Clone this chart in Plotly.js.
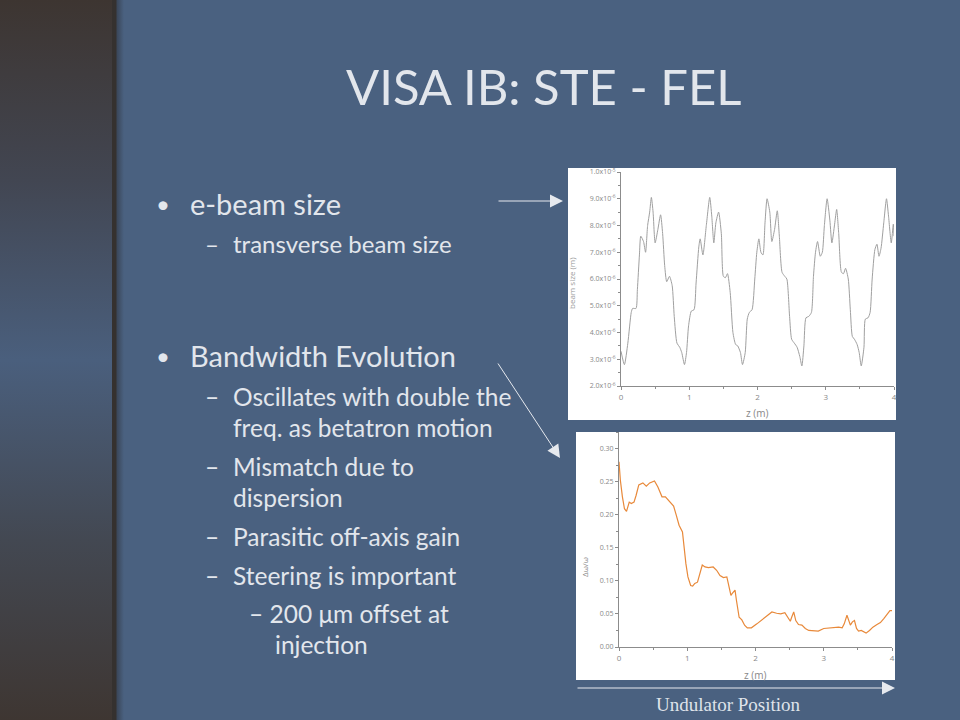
<!DOCTYPE html>
<html>
<head>
<meta charset="utf-8">
<script src="https://cdn.plot.ly/plotly-3.0.1.min.js"></script>
<style>
  html, body { margin:0; padding:0; width:960px; height:720px; overflow:hidden; }
  body {
    background:
      linear-gradient(to right, rgba(0,0,0,0) 0px, rgba(0,0,0,0) 112px, #35312f 112px, #35312f 116px, rgba(40,40,45,0.45) 117px, rgba(40,40,45,0) 124px),
      linear-gradient(to bottom, #3d3531 0%, #424652 25%, #4a5f7d 50%, #434852 75%, #3e3632 100%) 0 0 / 113px 720px no-repeat,
      #4a6180;
  }
  #chart { width:960px; height:720px; }
</style>
</head>
<body>
<div id="chart"></div>
<script>
// ---- data: beam size vs z (beam size in units of 1e-6 m) ----
const beamZ = [0.00,0.05,0.10,0.15,0.17,0.22,0.24,0.27,0.29,0.33,0.36,0.39,0.42,0.445,0.47,0.50,0.54,0.58,0.61,0.64,0.67,0.71,0.75,0.78,0.82,0.86,0.89,0.93,0.96,0.99,1.03,1.07,1.10,1.14,1.16,1.20,1.25,1.30,1.33,1.36,1.39,1.43,1.47,1.50,1.53,1.56,1.60,1.64,1.68,1.71,1.75,1.78,1.82,1.85,1.88,1.92,1.96,1.99,2.02,2.05,2.08,2.11,2.14,2.18,2.21,2.25,2.29,2.32,2.36,2.40,2.43,2.47,2.50,2.54,2.58,2.62,2.65,2.68,2.71,2.75,2.79,2.82,2.85,2.88,2.92,2.95,2.98,3.02,3.06,3.09,3.13,3.16,3.19,3.23,3.26,3.29,3.33,3.36,3.39,3.42,3.46,3.49,3.52,3.56,3.58,3.62,3.65,3.68,3.72,3.75,3.78,3.81,3.85,3.89,3.92,3.96,3.99,4.00];
const beamSize = [3.3,2.8,3.6,4.75,4.9,4.9,5.6,6.9,7.6,7.4,7.0,8.0,8.5,9.05,8.5,7.35,7.85,8.4,7.7,6.5,5.9,6.1,5.75,4.6,3.6,3.45,3.25,2.8,3.25,4.25,4.8,4.85,5.85,7.2,7.5,6.9,8.0,9.05,8.35,7.35,8.1,8.5,7.7,6.1,6.05,6.2,5.5,4.0,3.55,3.5,3.25,2.8,3.25,4.5,4.75,4.85,6.0,7.0,7.5,7.0,6.9,8.1,9.0,8.5,7.4,7.85,8.55,7.6,6.25,6.1,6.0,4.6,3.75,3.6,3.45,3.1,2.75,3.5,4.55,4.6,4.75,6.1,7.0,7.4,6.85,7.0,8.0,9.0,8.2,7.35,8.05,8.6,7.7,6.25,6.2,6.4,6.0,4.85,3.85,3.75,3.55,3.25,2.75,3.45,4.5,4.55,4.75,6.0,7.1,7.3,6.85,7.15,8.1,9.0,8.35,7.35,8.05,7.6];
const beamTickVals = [2,3,4,5,6,7,8,9,10];
const beamTickText = ['2.0x10<sup>-6</sup>','3.0x10<sup>-6</sup>','4.0x10<sup>-6</sup>','5.0x10<sup>-6</sup>','6.0x10<sup>-6</sup>','7.0x10<sup>-6</sup>','8.0x10<sup>-6</sup>','9.0x10<sup>-6</sup>','1.0x10<sup>-5</sup>'];

// ---- data: bandwidth (Δω/ω) vs z ----
const bwZ = [0.00,0.02,0.05,0.08,0.11,0.15,0.18,0.22,0.25,0.29,0.35,0.40,0.45,0.52,0.57,0.63,0.68,0.74,0.80,0.84,0.88,0.93,0.95,0.98,1.01,1.05,1.08,1.11,1.15,1.18,1.22,1.26,1.31,1.38,1.43,1.48,1.53,1.58,1.61,1.64,1.66,1.70,1.72,1.76,1.80,1.84,1.88,1.94,2.02,2.09,2.16,2.24,2.31,2.37,2.43,2.47,2.51,2.53,2.56,2.59,2.63,2.68,2.73,2.78,2.85,2.92,3.00,3.07,3.14,3.22,3.27,3.30,3.34,3.36,3.39,3.42,3.45,3.48,3.51,3.55,3.59,3.62,3.67,3.72,3.78,3.83,3.88,3.93,3.97,4.00];
const bwVal = [0.280,0.252,0.227,0.209,0.205,0.219,0.217,0.219,0.229,0.245,0.248,0.243,0.248,0.251,0.242,0.227,0.227,0.220,0.213,0.199,0.184,0.174,0.151,0.126,0.106,0.093,0.092,0.096,0.098,0.111,0.124,0.121,0.120,0.121,0.116,0.108,0.105,0.106,0.091,0.078,0.081,0.086,0.071,0.045,0.041,0.033,0.029,0.029,0.035,0.041,0.046,0.053,0.051,0.050,0.052,0.045,0.039,0.045,0.053,0.040,0.034,0.033,0.028,0.025,0.024,0.024,0.028,0.029,0.030,0.030,0.029,0.035,0.048,0.043,0.033,0.038,0.040,0.028,0.024,0.025,0.023,0.021,0.025,0.030,0.034,0.037,0.043,0.050,0.055,0.055];
const bwTickVals = [0,0.05,0.10,0.15,0.20,0.25,0.30];
const zTickVals = [0,1,2,3,4];

// ---- slide text ----
const slideTitle = 'VISA IB: STE - FEL';
const bulletLines = [
  {t:'•', x:154, y:203, s:24},
  {t:'e-beam size', x:188, y:203, s:29},
  {t:'–', x:203, y:243, s:24},
  {t:'transverse beam size', x:231, y:243, s:24},
  {t:'•', x:154, y:355, s:24},
  {t:'Bandwidth Evolution', x:188, y:355, s:29},
  {t:'–', x:203, y:396, s:24.5},
  {t:'Oscillates with double the', x:231, y:396, s:24.5},
  {t:'freq. as betatron motion', x:231, y:427, s:24.5},
  {t:'–', x:203, y:466, s:24.5},
  {t:'Mismatch due to', x:231, y:466, s:24.5},
  {t:'dispersion', x:231, y:497, s:24.5},
  {t:'–', x:203, y:536, s:24.5},
  {t:'Parasitic off-axis gain', x:231, y:536, s:24.5},
  {t:'–', x:203, y:575, s:24.5},
  {t:'Steering is important', x:231, y:575, s:24.5},
  {t:'– 200 μm offset at', x:247, y:613, s:24.5},
  {t:'injection', x:273, y:644, s:24.5}
];

const W = 960, H = 720;
const px = v => v / W;
const py = v => 1 - v / H;
const textCol = '#e2e6ec';
const slideFont = 'Lato, "Open Sans", sans-serif';
const chartFont = '"Open Sans", "DejaVu Sans", sans-serif';

const traces = [
  {x: beamZ, y: beamSize, xaxis:'x', yaxis:'y', type:'scatter', mode:'lines',
   line:{color:'#a0a0a0', width:1, shape:'spline', smoothing:0.6}, hoverinfo:'skip'},
  {x: bwZ, y: bwVal, xaxis:'x2', yaxis:'y2', type:'scatter', mode:'lines',
   line:{color:'#e8893a', width:1.2}, hoverinfo:'skip'}
];

const axisBase = {
  showline:true, linecolor:'#8c8c8c', linewidth:1, mirror:false,
  ticks:'outside', ticklen:3, tickcolor:'#8c8c8c', tickwidth:1,
  showgrid:false, zeroline:false, fixedrange:true,
  tickfont:{family:chartFont, size:8, color:'#888'}
};

const annotations = [];
annotations.push({text: slideTitle, x: px(543), y: py(86), xref:'paper', yref:'paper',
  xanchor:'center', yanchor:'middle', showarrow:false,
  font:{family:slideFont, size:49, color:textCol}});
bulletLines.forEach(b => annotations.push({text:b.t, x:px(b.x), y:py(b.y), xref:'paper', yref:'paper',
  xanchor:'left', yanchor:'middle', showarrow:false, font:{family:slideFont, size:b.s, color:textCol}}));
// axis titles
annotations.push({text:'beam size (m)', x:px(572), y:py(283), xref:'paper', yref:'paper', textangle:-90,
  xanchor:'center', yanchor:'middle', showarrow:false, font:{family:chartFont, size:8, color:'#999'}});
annotations.push({text:'z (m)', x:px(757), y:py(413), xref:'paper', yref:'paper',
  xanchor:'center', yanchor:'middle', showarrow:false, font:{family:chartFont, size:10, color:'#888'}});
annotations.push({text:'Δω/ω', x:px(584), y:py(567), xref:'paper', yref:'paper', textangle:-90,
  xanchor:'center', yanchor:'middle', showarrow:false, font:{family:chartFont, size:8, color:'#888'}});
annotations.push({text:'z (m)', x:px(755), y:py(675), xref:'paper', yref:'paper',
  xanchor:'center', yanchor:'middle', showarrow:false, font:{family:chartFont, size:10, color:'#888'}});
// arrows
const arrowCol = '#e6e9ee';
[[563,201,-66,0],[560,458,-63,-96],[895,688,-319,0]].forEach(a => annotations.push({
  text:'', x:px(a[0]), y:py(a[1]), xref:'paper', yref:'paper', showarrow:true,
  ax:a[2], ay:a[3], arrowhead:2, arrowsize:2.6, arrowwidth:1, arrowcolor:arrowCol}));
annotations.push({text:'Undulator Position', x:px(728), y:py(704), xref:'paper', yref:'paper',
  xanchor:'center', yanchor:'middle', showarrow:false,
  font:{family:'"Liberation Serif", "DejaVu Serif", serif', size:19, color:'#dfe3ea'}});

const layout = {
  width: W, height: H,
  margin:{l:0, r:0, t:0, b:0},
  paper_bgcolor:'rgba(0,0,0,0)',
  plot_bgcolor:'rgba(0,0,0,0)',
  showlegend:false,
  xaxis: Object.assign({}, axisBase, {domain:[px(621), px(894)], range:[0,4], anchor:'y',
    tickvals: zTickVals, minor:{dtick:0.5, tick0:0, ticks:'outside', ticklen:2, tickcolor:'#8c8c8c'}}),
  yaxis: Object.assign({}, axisBase, {domain:[py(386), py(172)], range:[2,10], anchor:'x',
    tickvals: beamTickVals, ticktext: beamTickText,
    tickfont:{family:chartFont, size:7, color:'#888'},
    minor:{dtick:0.5, tick0:0, ticks:'outside', ticklen:2, tickcolor:'#8c8c8c'}}),
  xaxis2: Object.assign({}, axisBase, {domain:[px(619), px(892)], range:[0,4], anchor:'y2',
    tickvals: zTickVals, minor:{dtick:0.5, tick0:0, ticks:'outside', ticklen:2, tickcolor:'#8c8c8c'}}),
  yaxis2: Object.assign({}, axisBase, {domain:[py(647), py(432)], range:[0,0.325], anchor:'x2',
    tickvals: bwTickVals, tickformat:'.2f',
    tickfont:{family:chartFont, size:7, color:'#888'},
    minor:{dtick:0.025, tick0:0, ticks:'outside', ticklen:2, tickcolor:'#8c8c8c'}}),
  shapes:[
    {type:'rect', xref:'paper', yref:'paper', x0:px(568), x1:px(896), y0:py(420), y1:py(168),
     fillcolor:'#ffffff', line:{width:0}, layer:'below'},
    {type:'rect', xref:'paper', yref:'paper', x0:px(576), x1:px(895), y0:py(680), y1:py(432),
     fillcolor:'#ffffff', line:{width:0}, layer:'below'}
  ],
  annotations: annotations
};

Plotly.newPlot('chart', traces, layout, {staticPlot:true, displayModeBar:false});
</script>
</body>
</html>
